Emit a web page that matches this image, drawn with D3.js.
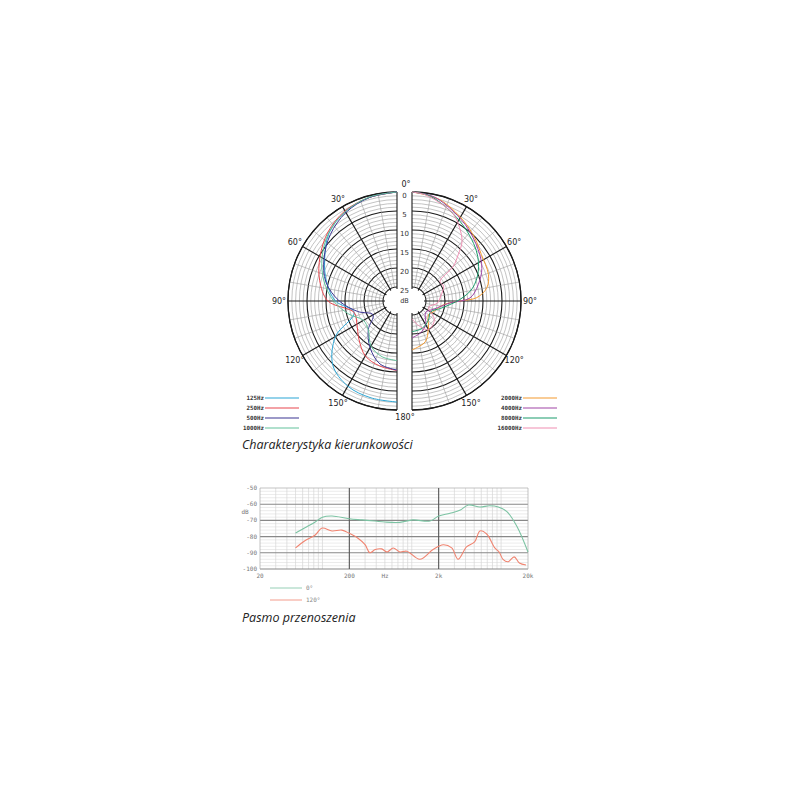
<!DOCTYPE html>
<html>
<head>
<meta charset="utf-8">
<script src="https://cdn.jsdelivr.net/npm/d3@7"></script>
<style>
  body { margin: 0; background: #fff; }
  svg { display: block; }
</style>
</head>
<body>
<script>
const width = 800;
const height = 800;

// Polar pattern data: attenuation (dB) read at the given angles
const ANGLES = [0, 15, 30, 45, 60, 75, 90, 105, 120, 135, 150, 165, 180];
const leftSeries = [
  {name: "125Hz",  color: "#2ba6d6", a: ANGLES, db: [0, 0.5, 1.5, 3.4, 6.7, 9.5, 12.5, 17, 10, 4.8, 2.8, 2.3, 2.1]},
  {name: "250Hz",  color: "#e8474e", a: ANGLES, db: [0, 0.5, 1.3, 3, 5.3, 7.6, 10.5, 17, 16.5, 14.5, 12, 11, 10.4]},
  {name: "500Hz",  color: "#3b3592", a: ANGLES, db: [0, 0.5, 1.8, 3.9, 6.5, 9.3, 13.5, 18, 21.4, 18, 14.5, 11.5, 10.5]},
  {name: "1000Hz", color: "#62c29c", a: ANGLES, db: [0, 0.4, 1.5, 3.3, 5.9, 8.8, 12, 15.5, 18.5, 18, 15, 13.5, 13]}
];
const A_2000 = [0, 15, 32, 45, 56, 71, 80, 87, 90, 97, 117, 130, 149, 162, 180];
const DB_2000 = [0, 1, 3.5, 5.3, 6.7, 7.4, 8.7, 11.6, 16, 20.4, 22.4, 23, 20.3, 17.4, 15.8];
const A_4000 = [0, 10, 18, 35, 52, 65, 76, 87, 93, 110, 130, 150, 165, 180];
const DB_4000 = [0, 0.5, 1.6, 4.2, 6.6, 8.4, 10.7, 13.4, 18.7, 22.5, 24, 21.5, 20, 19];
const A_8000 = [0, 10, 31, 52, 66, 78, 88, 105, 120, 140, 160, 180];
const DB_8000 = [0, 0.7, 4.2, 7.2, 9.6, 12.4, 16, 21, 23, 22, 21, 20.6];
const A_16000 = [0, 7, 19, 26, 33, 40, 45, 50, 55, 65, 80, 95, 110, 130, 150, 165, 180];
const DB_16000 = [0, 0.5, 2.3, 3.5, 5.7, 8.2, 11.5, 14.5, 19.7, 19.5, 21, 22, 24, 21, 20, 22, 24];
const rightSeries = [
  {name: "2000Hz",  color: "#f39a2e", a: A_2000,  db: DB_2000},
  {name: "4000Hz",  color: "#a044a6", a: A_4000,  db: DB_4000},
  {name: "8000Hz",  color: "#1b9b6c", a: A_8000,  db: DB_8000},
  {name: "16000Hz", color: "#f08db2", a: A_16000, db: DB_16000}
];
const DB_TICKS = [0, 5, 10, 15, 20, 25];
const DEG_TICKS = [30, 60, 90, 120, 150];

// Frequency response data
const FREQ_0 =    [50, 63, 83, 100, 128, 200, 277, 388, 500, 735, 1030, 1600, 2000, 2680, 3500, 4300, 5800, 7400, 9300, 11600, 15000, 20000];
const RESP_0 =    [-77.8, -74.7, -71, -68, -67.3, -69, -69.7, -70.4, -71, -71.2, -69.7, -70.4, -67.3, -65.6, -63.6, -60.5, -61.7, -61, -61.7, -64.6, -73.6, -89.5];
const FREQ_120 =  [50, 63, 83, 99, 128, 165, 200, 250, 300, 340, 390, 460, 530, 620, 735, 880, 1230, 1730, 2250, 2800, 3300, 4100, 5050, 5800, 6900, 8500, 9500, 10500, 12000, 14000, 16000, 19000];
const RESP_120 =  [-87, -82.7, -79, -74.7, -76.5, -76, -78, -81, -85, -90, -88, -87.6, -89.5, -87, -89.5, -89, -94, -88, -85, -87, -94, -86.4, -83.3, -76.5, -78.4, -87, -89.5, -94, -95.5, -92.5, -96.3, -97.5];
const FREQ_TICKS = [{f: 20, t: "20"}, {f: 200, t: "200"}, {f: 2000, t: "2k"}, {f: 20000, t: "20k"}];
const DB_AXIS = [-50, -60, -70, -80, -90, -100];

const svg = d3.select("body").append("svg")
    .attr("width", width)
    .attr("height", height);

// ---------- Polar chart ----------
const R = 109;
const CY = 301;
const rScale = d3.scaleLinear().domain([0, 25]).range([R, R - 95]);
const rad = d => d * Math.PI / 180;

function drawHalf(cx, side, series) {
    const g = svg.append("g").attr("transform", `translate(${cx},${CY})`);
    // canvas-style arc angles: right half from -90 to 90, left from 90 to 270
    const a0 = side > 0 ? -Math.PI / 2 : Math.PI / 2;
    const a1 = side > 0 ? Math.PI / 2 : 3 * Math.PI / 2;

    // thin rings every dB, thick every 5
    d3.range(0, 26).forEach(d => {
        const p = d3.path();
        p.arc(0, 0, rScale(d), a0, a1);
        g.append("path").attr("d", p.toString())
            .attr("fill", "none")
            .attr("stroke", d % 5 === 0 ? "#1a1a1a" : "#9a9a9a")
            .attr("stroke-width", d % 5 === 0 ? 1.1 : 0.6);
    });

    // spokes every 10 deg, thick every 30
    d3.range(0, 181, 10).forEach(a => {
        const t = rad(a);
        const thick = a % 30 === 0;
        const r0 = thick ? 12 : 14;
        g.append("line")
            .attr("x1", side * r0 * Math.sin(t)).attr("y1", -r0 * Math.cos(t))
            .attr("x2", side * R * Math.sin(t)).attr("y2", -R * Math.cos(t))
            .attr("stroke", thick ? "#1a1a1a" : "#9a9a9a")
            .attr("stroke-width", thick ? 1.1 : 0.6);
    });

    // outer edge
    const po = d3.path();
    po.arc(0, 0, R, a0, a1);
    g.append("path").attr("d", po.toString())
        .attr("fill", "none").attr("stroke", "#1a1a1a").attr("stroke-width", 1.3);

    // curves
    const line = d3.lineRadial()
        .angle(d => side * rad(d[0]))
        .radius(d => rScale(Math.min(d[1], 26)))
        .curve(d3.curveCatmullRom.alpha(0.5));
    series.forEach(s => {
        g.append("path")
            .attr("d", line(s.a.map((a, i) => [a, s.db[i]])))
            .attr("fill", "none")
            .attr("stroke", s.color)
            .attr("stroke-width", 1);
    });

    // inner hole
    const ph = d3.path();
    ph.moveTo(0, -12);
    ph.arc(0, 0, 12, -Math.PI / 2, Math.PI / 2, side < 0);
    ph.closePath();
    g.append("path").attr("d", ph.toString()).attr("fill", "#fff");

    // degree labels
    DEG_TICKS.forEach(a => {
        const t = rad(a);
        g.append("text")
            .attr("x", side * (R + 9) * Math.sin(t))
            .attr("y", -(R + 9) * Math.cos(t) + 3)
            .attr("text-anchor", "middle")
            .attr("font-family", "DejaVu Sans")
            .attr("font-size", 8)
            .attr("fill", "#222")
            .text(a + "°");
    });

    // legend
    const lg = svg.append("g");
    series.forEach((s, i) => {
        const y = 398 + i * 10;
        const x0 = side < 0 ? 265 : 523;
        lg.append("line")
            .attr("x1", x0).attr("x2", x0 + 34)
            .attr("y1", y).attr("y2", y)
            .attr("stroke", s.color).attr("stroke-width", 1.2);
        lg.append("text")
            .attr("x", x0 - 1).attr("y", y + 2)
            .attr("text-anchor", "end")
            .attr("font-family", "DejaVu Sans Mono")
            .attr("font-weight", "bold")
            .attr("font-size", 5.8)
            .attr("fill", "#333")
            .text(s.name);
    });
}

drawHalf(397, -1, leftSeries);
drawHalf(412, 1, rightSeries);

// gap between the halves with the dB scale
const midX = 404.5;
svg.append("rect").attr("x", 397.6).attr("y", CY - 12).attr("width", 13.8).attr("height", 24).attr("fill", "#fff");
DB_TICKS.forEach(d => {
    svg.append("text")
        .attr("x", midX).attr("y", CY - rScale(d) + 6)
        .attr("text-anchor", "middle")
        .attr("font-family", "DejaVu Sans")
        .attr("font-size", 7)
        .attr("fill", "#333")
        .text(d);
});
svg.append("text").attr("x", midX).attr("y", CY + 2)
    .attr("text-anchor", "middle").attr("font-family", "DejaVu Sans")
    .attr("font-size", 6.5).attr("fill", "#333").text("dB");
svg.append("text").attr("x", 406).attr("y", 187)
    .attr("text-anchor", "middle").attr("font-family", "DejaVu Sans")
    .attr("font-size", 8).attr("fill", "#222").text("0°");
svg.append("text").attr("x", 405).attr("y", 420)
    .attr("text-anchor", "middle").attr("font-family", "DejaVu Sans")
    .attr("font-size", 8).attr("fill", "#222").text("180°");

svg.append("text").attr("x", 242).attr("y", 449)
    .attr("font-family", "Open Sans").attr("font-style", "italic")
    .attr("font-size", 12.5).attr("fill", "#222")
    .text("Charakterystyka kierunkowości");

// ---------- Frequency response ----------
const x = d3.scaleLog().domain([20, 20000]).range([260, 528]);
const y = d3.scaleLinear().domain([-100, -50]).range([569, 488]);
const fg = svg.append("g");

// minor vertical lines (1..9 of each decade)
const minorF = [];
[10, 100, 1000, 10000].forEach(dec => {
    for (let k = 1; k < 10; k++) {
        const f = dec * k;
        if (f > 20 && f < 20000 && f !== 200 && f !== 2000) minorF.push(f);
    }
});
fg.selectAll(".vminor").data(minorF).enter().append("line")
    .attr("x1", d => x(d)).attr("x2", d => x(d))
    .attr("y1", y(-50)).attr("y2", y(-100))
    .attr("stroke", "#cfcfcf").attr("stroke-width", 0.6);

// minor horizontal lines every 2 dB
fg.selectAll(".hminor").data(d3.range(-98, -50, 2).filter(d => d % 10 !== 0)).enter().append("line")
    .attr("x1", x(20)).attr("x2", x(20000))
    .attr("y1", d => y(d)).attr("y2", d => y(d))
    .attr("stroke", "#d6d6d6").attr("stroke-width", 0.5);

// major horizontal lines
fg.selectAll(".hmajor").data(DB_AXIS).enter().append("line")
    .attr("x1", x(20)).attr("x2", x(20000))
    .attr("y1", d => y(d)).attr("y2", d => y(d))
    .attr("stroke", d => (d === -50 ? "#aaa" : "#888")).attr("stroke-width", d => (d === -50 ? 0.7 : 1.1));

// major vertical lines
fg.selectAll(".vmajor").data([20, 200, 2000, 20000]).enter().append("line")
    .attr("x1", d => x(d)).attr("x2", d => x(d))
    .attr("y1", y(-50)).attr("y2", y(-100))
    .attr("stroke", d => (d === 200 || d === 2000 ? "#555" : "#aaa"))
    .attr("stroke-width", d => (d === 200 || d === 2000 ? 1.1 : 0.7));

// curves
const respLine = d3.line()
    .x(d => x(d[0])).y(d => y(d[1]))
    .curve(d3.curveCatmullRom.alpha(0.5));
fg.append("path")
    .attr("d", respLine(FREQ_0.map((f, i) => [f, RESP_0[i]])))
    .attr("fill", "none").attr("stroke", "#7cc3a3").attr("stroke-width", 1.1);
fg.append("path")
    .attr("d", respLine(FREQ_120.map((f, i) => [f, RESP_120[i]])))
    .attr("fill", "none").attr("stroke", "#f08470").attr("stroke-width", 1.1);

// axis labels
fg.selectAll(".ylab").data(DB_AXIS).enter().append("text")
    .attr("x", 257).attr("y", d => y(d) + 2)
    .attr("text-anchor", "end")
    .attr("font-family", "DejaVu Sans Mono").attr("font-size", 6)
    .attr("fill", "#777")
    .text(d => d);
fg.append("text").attr("x", 245).attr("y", 514)
    .attr("text-anchor", "middle")
    .attr("font-family", "DejaVu Sans Mono").attr("font-size", 6)
    .attr("fill", "#777").text("dB");
fg.selectAll(".xlab").data(FREQ_TICKS).enter().append("text")
    .attr("x", d => x(d.f)).attr("y", 578)
    .attr("text-anchor", "middle")
    .attr("font-family", "DejaVu Sans Mono").attr("font-size", 6)
    .attr("fill", "#777")
    .text(d => d.t);
fg.append("text").attr("x", 385).attr("y", 578)
    .attr("text-anchor", "middle")
    .attr("font-family", "DejaVu Sans Mono").attr("font-size", 6)
    .attr("fill", "#777").text("Hz");

// legend
[{c: "#7cc3a3", t: "0°", y: 588}, {c: "#f08470", t: "120°", y: 600}].forEach(l => {
    fg.append("line").attr("x1", 270).attr("x2", 302)
        .attr("y1", l.y).attr("y2", l.y)
        .attr("stroke", l.c).attr("stroke-width", 0.8);
    fg.append("text").attr("x", 306).attr("y", l.y + 2)
        .attr("font-family", "DejaVu Sans Mono").attr("font-size", 6)
        .attr("fill", "#888").text(l.t);
});

svg.append("text").attr("x", 242).attr("y", 622)
    .attr("font-family", "Open Sans").attr("font-style", "italic")
    .attr("font-size", 12.5).attr("fill", "#222")
    .text("Pasmo przenoszenia");
</script>
</body>
</html>
